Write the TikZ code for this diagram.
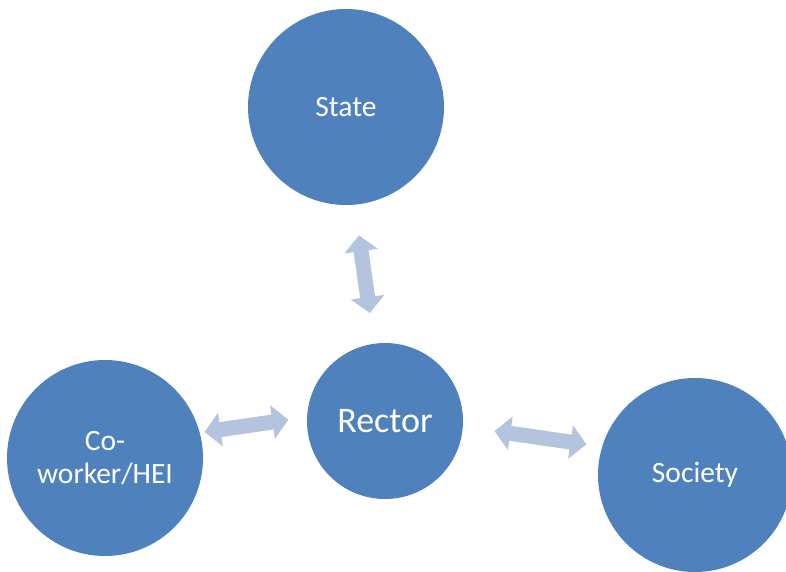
\documentclass[tikz,border=0pt]{standalone}
\usepackage{fontspec}
\setmainfont{Carlito}
\usetikzlibrary{arrows.meta}
\definecolor{circblue}{HTML}{4F81BD}
\definecolor{arrblue}{RGB}{180,195,222}
\begin{document}
\begin{tikzpicture}[x=1pt,y=-1pt,
  bub/.style={circle, fill=circblue, draw=none, inner sep=0pt, outer sep=0pt,
    minimum size=196pt, text=white, align=center,
    font=\fontsize{29.5}{33}\selectfont},
  dblarrow/.style={draw=arrblue, line width=15pt,
    {Triangle[width=33pt,length=16pt]}-{Triangle[width=33pt,length=16pt]}}]
\useasboundingbox (0,0) rectangle (786,571);
\node[bub] (state) at (346,107) {State};
\node[bub, minimum size=156pt, font=\fontsize{36}{42}\selectfont] (rector) at (385,421) {Rector};
\node[bub] (cow) at (105,458) {Co-\\worker/HEI};
\node[bub, minimum size=194pt] (soc) at (695,475) {Society};
\draw[dblarrow, shorten <=31pt, shorten >=31pt] (state.-85) -- (rector.98);
\draw[dblarrow, shorten <=5pt, shorten >=19pt] (cow.15) -- (rector.177);
\draw[dblarrow, shorten <=32pt, shorten >=16pt] (rector.-4) -- (soc.163);
\end{tikzpicture}
\end{document}
